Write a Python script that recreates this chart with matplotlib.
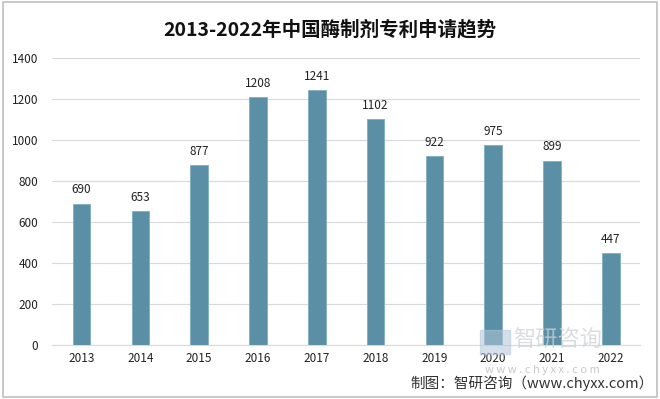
import matplotlib.pyplot as plt
from matplotlib.patches import Rectangle

plt.rcParams['font.family'] = ['Noto Sans CJK SC', 'DejaVu Sans']

# 数据
years = ['2013', '2014', '2015', '2016', '2017', '2018', '2019', '2020', '2021', '2022']
patents = [690, 653, 877, 1208, 1241, 1102, 922, 975, 899, 447]
yticks = [0, 200, 400, 600, 800, 1000, 1200, 1400]

fig = plt.figure(figsize=(6.6, 3.99), dpi=100)
ax = fig.add_axes([0.079, 0.135, 0.891, 0.72])

x = range(len(years))
ax.bar(x, patents, width=0.3, color='#5B8FA6', edgecolor='#7FAFC4', linewidth=0.6, zorder=3)
for i, v in zip(x, patents):
    ax.text(i, v + 35, str(v), ha='center', va='bottom', fontsize=8.5, color='#222222')

ax.set_xlim(-0.5, len(years) - 0.5)
ax.set_ylim(0, 1400)
ax.set_yticks(yticks)
ax.set_xticks(list(x))
ax.set_xticklabels(years)
ax.tick_params(axis='both', length=0, labelsize=8.5, colors='#222222')
ax.tick_params(axis='y', pad=10)
ax.tick_params(axis='x', pad=5)
ax.grid(axis='y', color='#D9D9D9', linewidth=0.8, zorder=0)
for s in ['top', 'right', 'left']:
    ax.spines[s].set_visible(False)
ax.spines['bottom'].set_color('#D9D9D9')

fig.text(0.5, 0.925, '2013-2022年中国酶制剂专利申请趋势', ha='center', va='center',
         fontsize=14, fontweight='bold', color='#111111')

# 水印
fig.text(0.778, 0.147, '智研咨询', ha='left', va='center', fontsize=16,
         color='#CDD2D6', alpha=0.75, zorder=5)
fig.add_artist(Rectangle((0.727, 0.112), 0.045, 0.062, transform=fig.transFigure,
                         color='#B4C6D9', alpha=0.55, zorder=5))
fig.text(0.822, 0.072, 'w w w . c h y x x . c o m', ha='center', va='center', fontsize=8,
         color='#C4C8CC', zorder=5)

fig.text(0.99, 0.04, '制图：智研咨询（www.chyxx.com）', ha='right', va='center',
         fontsize=10.5, color='#333333')

fig.add_artist(Rectangle((0.004, 0.006), 0.992, 0.988, transform=fig.transFigure,
                         fill=False, edgecolor='#BFBFBF', linewidth=1.2))

fig.savefig('out.png', dpi=100)
